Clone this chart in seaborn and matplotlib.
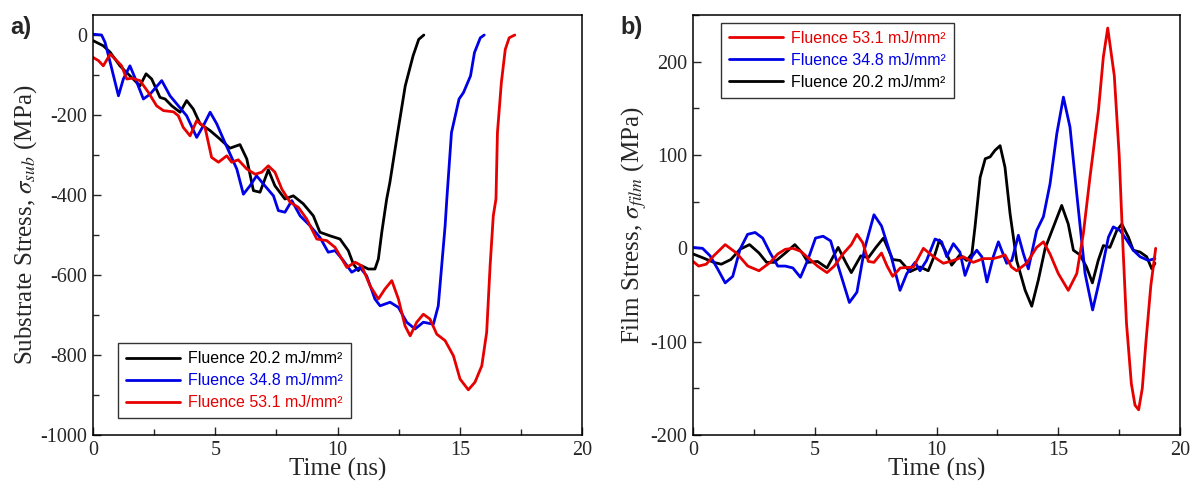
import numpy as np
import pandas as pd
import matplotlib.pyplot as plt
import seaborn as sns

# ---- panel a) substrate stress (MPa) vs time (ns) ----
t_sub_20 = [0, 0.42, 0.70, 1.10, 1.51, 1.92, 2.17, 2.40, 2.74, 2.95, 3.22, 3.56, 3.83, 4.10, 4.38,
            4.79, 5.19, 5.60, 6.01, 6.29, 6.56, 6.83, 7.17, 7.44, 7.85, 8.19, 8.60, 9.01, 9.28,
            9.69, 10.10, 10.44, 10.65, 10.85, 10.99, 11.26, 11.53, 11.67, 11.81, 12.01, 12.14,
            12.46, 12.77, 13.09, 13.32, 13.53]
s_sub_20 = [-14, -27, -43, -77, -102, -127, -97, -110, -156, -160, -177, -193, -164, -185, -222,
            -239, -260, -283, -274, -310, -389, -393, -337, -377, -410, -402, -422, -452, -493,
            -502, -510, -539, -573, -589, -577, -585, -585, -560, -493, -410, -369,
            -244, -127, -52, -11, 0]

t_sub_35 = [0, 0.35, 0.49, 0.70, 1.04, 1.24, 1.51, 1.79, 2.06, 2.33, 2.81, 3.15, 3.49, 3.83, 4.24,
            4.51, 4.79, 5.06, 5.33, 5.88, 6.15, 6.42, 6.69, 7.03, 7.38, 7.58, 7.85, 8.13, 8.47,
            8.88, 9.28, 9.62, 9.90, 10.24, 10.58, 10.92, 11.19, 11.53, 11.74, 12.15, 12.49,
            12.83, 13.17, 13.51, 13.92, 14.12, 14.26, 14.40, 14.47, 14.66, 14.97, 15.15, 15.44,
            15.60, 15.84, 16.00]
s_sub_35 = [2, 0, -18, -68, -152, -110, -77, -118, -160, -148, -114, -152, -177, -202, -256,
            -227, -193, -222, -260, -335, -398, -377, -352, -377, -402, -439, -443, -414, -452,
            -477, -506, -543, -539, -564, -593, -581, -602, -660, -677, -668, -681,
            -718, -735, -718, -723, -677, -577, -477, -410, -244, -160, -144, -102,
            -44, -7, 0]

t_sub_53 = [0, 0.22, 0.42, 0.70, 0.97, 1.17, 1.38, 1.58, 1.92, 2.26, 2.60, 2.88, 3.29, 3.49, 3.69,
            3.97, 4.24, 4.58, 4.85, 5.13, 5.47, 5.67, 5.94, 6.29, 6.63, 6.90, 7.17, 7.44, 7.72,
            8.06, 8.40, 8.74, 9.15, 9.56, 9.90, 10.38, 10.72, 10.99, 11.33, 11.67, 11.94, 12.22,
            12.49, 12.76, 12.97, 13.24, 13.51, 13.78, 14.06, 14.40, 14.74, 15.01, 15.35, 15.62,
            15.90, 16.10, 16.24, 16.37, 16.48, 16.54, 16.70, 16.86, 17.02, 17.25]
s_sub_53 = [-56, -64, -77, -48, -64, -77, -110, -108, -114, -143, -177, -189, -192, -202, -231,
            -252, -214, -231, -306, -318, -302, -318, -312, -335, -348, -343, -327, -343, -385,
            -418, -431, -460, -510, -514, -531, -581, -568, -577, -627, -660, -635, -614,
            -660, -727, -752, -718, -698, -710, -748, -764, -802, -860, -887, -868,
            -827, -743, -577, -452, -410, -244, -119, -36, -7, 0]

# ---- panel b) film stress (MPa) vs time (ns) ----
t_film_53 = [0, 0.23, 0.54, 0.85, 1.32, 1.78, 2.25, 2.71, 3.17, 3.48, 3.79, 4.10, 4.41, 4.72, 5.11,
             5.50, 5.80, 6.19, 6.50, 6.73, 6.97, 7.20, 7.43, 7.74, 7.97, 8.20, 8.51, 9.05, 9.46,
             9.88, 10.28, 10.69, 11.10, 11.51, 11.92, 12.33, 12.61, 12.81, 13.08, 13.29, 13.70,
             14.11, 14.39, 14.66, 15.00, 15.41, 15.76, 16.03, 16.30, 16.65, 16.85, 17.03, 17.30,
             17.50, 17.65, 17.80, 18.00, 18.15, 18.30, 18.45, 18.60, 18.80, 19.00]
s_film_53 = [-14, -19, -17, -8, 4, -5, -19, -24, -15, -6, -1, 0, -3, -10, -19,
             -26, -19, -5, 4, 15, 6, -14, -15, -5, -19, -30, -21, -20, 0,
             -9, -16, -13, -9, -15, -11, -11, -9, -7, -20, -24, -16,
             1, 7, -6, -27, -45, -27, 16, 76, 148, 205, 236, 185,
             100, 5, -80, -145, -168, -173, -150, -100, -40, 0]

t_film_35 = [0, 0.39, 0.70, 1.01, 1.32, 1.63, 1.93, 2.24, 2.55, 2.86, 3.17, 3.48, 3.79, 4.10, 4.41,
             4.72, 5.03, 5.34, 5.65, 5.96, 6.42, 6.73, 7.04, 7.43, 7.74, 8.13, 8.50, 8.78, 9.12,
             9.32, 9.59, 9.94, 10.21, 10.42, 10.69, 10.96, 11.17, 11.45, 11.65, 11.86, 12.07,
             12.33, 12.54, 12.88, 13.09, 13.36, 13.57, 13.77, 14.11, 14.39, 14.66, 14.94, 15.21,
             15.48, 15.76, 16.10, 16.41, 16.72, 17.06, 17.26, 17.54, 17.81, 18.08, 18.36, 18.70,
             18.97]
s_film_35 = [1, 0, -8, -22, -37, -30, -1, 15, 17, 11, -5, -19, -19, -21, -31,
             -12, 11, 13, 8, -19, -58, -47, -1, 36, 24, -8, -45, -27, -15,
             -24, -13, 10, 7, -9, 5, -4, -29, -9, -2, -9, -36,
             -9, 7, -16, -13, 14, -6, -22, 19, 34, 69, 123, 162,
             130, 58, -27, -66, -31, 12, 23, 19, 9, -2, -9, -13,
             -11]

t_film_20 = [0, 0.39, 0.85, 1.16, 1.55, 1.93, 2.32, 2.71, 3.02, 3.33, 3.79, 4.18, 4.49, 4.72, 5.11,
             5.50, 5.96, 6.27, 6.50, 6.89, 7.20, 7.51, 7.82, 8.20, 8.50, 8.91, 9.32, 9.66, 9.94,
             10.12, 10.35, 10.62, 10.96, 11.24, 11.45, 11.58, 11.79, 12.00, 12.20, 12.40, 12.61,
             12.81, 13.02, 13.29, 13.64, 13.91, 14.18, 14.46, 14.80, 15.14, 15.41, 15.62, 15.89,
             16.16, 16.40, 16.64, 16.85, 17.12, 17.40, 17.61, 17.88, 18.08, 18.36, 18.63, 18.84,
             18.97]
s_film_20 = [-6, -10, -15, -17, -12, -1, 4, -5, -15, -15, -5, 4, -5, -15, -14,
             -21, 1, -15, -26, -8, -10, 1, 11, -12, -13, -25, -20, -24, -6,
             9, -2, -18, -7, -13, -6, 23, 76, 96, 98, 105, 110,
             87, 37, -13, -45, -62, -34, 0, 23, 46, 26, -2, -7,
             -20, -37, -13, 3, 1, 19, 26, 12, -2, -4, -9, -22,
             -16]

labels = ["Fluence 20.2 mJ/mm²", "Fluence 34.8 mJ/mm²", "Fluence 53.1 mJ/mm²"]
colors = ["#000000", "#0000e6", "#e60000"]

sub_series = [(t_sub_20, s_sub_20), (t_sub_35, s_sub_35), (t_sub_53, s_sub_53)]
film_series = [(t_film_20, s_film_20), (t_film_35, s_film_35), (t_film_53, s_film_53)]

sns.set_theme(style="white")
plt.rcParams['font.family'] = ['Liberation Serif', 'DejaVu Serif']
plt.rcParams['mathtext.fontset'] = 'stix'
plt.rcParams['axes.unicode_minus'] = False

fig = plt.figure(figsize=(11.91, 4.84), dpi=100)
ax1 = fig.add_axes([0.0781, 0.1012, 0.4106, 0.8678])
ax2 = fig.add_axes([0.5819, 0.1012, 0.4089, 0.8678])


def draw(ax, series, order):
    handles = {}
    for i in order:
        t, s = series[i]
        df = pd.DataFrame({"t": t, "s": s})
        sns.lineplot(data=df, x="t", y="s", ax=ax, color=colors[i], linewidth=2.0,
                     sort=False, estimator=None)
        handles[i] = ax.lines[-1]
    return handles


h1 = draw(ax1, sub_series, [0, 1, 2])
h2 = draw(ax2, film_series, [0, 1, 2])

for ax in (ax1, ax2):
    ax.set_xlim(0, 20)
    ax.set_xticks([0, 5, 10, 15, 20])
    ax.set_xticks(np.arange(0, 20.1, 2.5), minor=True)
    ax.tick_params(which="both", direction="in", bottom=True, left=True, top=False, right=False,
                   labelsize=14.5, pad=4)
    ax.tick_params(which="major", length=6, width=1)
    ax.tick_params(which="minor", length=4, width=1)
    for sp in ax.spines.values():
        sp.set_color("black")
        sp.set_linewidth(1.1)
    ax.set_xlabel("Time (ns)", fontsize=18, labelpad=-1)

ax1.set_ylim(-1000, 50)
ax1.set_yticks(np.arange(-1000, 1, 200))
ax1.set_yticks(np.arange(-1000, 1, 100), minor=True)
ax1.set_ylabel(r"Substrate Stress, $\sigma_{sub}$ (MPa)", fontsize=18, labelpad=1)

ax2.set_ylim(-200, 250)
ax2.set_yticks([-200, -100, 0, 100, 200])
ax2.set_yticks(np.arange(-200, 251, 50), minor=True)
ax2.set_ylabel(r"Film Stress, $\sigma_{film}$ (MPa)", fontsize=18, labelpad=1)

leg_kw = dict(frameon=True, fancybox=False, edgecolor="black", handlelength=3.4,
              handletextpad=0.5, labelspacing=0.44, borderpad=0.5, borderaxespad=0,
              prop={"family": "Liberation Sans", "size": 11.5})

leg1 = ax1.legend([h1[i] for i in [0, 1, 2]], [labels[i] for i in [0, 1, 2]],
                  loc="lower left", bbox_to_anchor=(0.051, 0.040), **leg_kw)
leg2 = ax2.legend([h2[i] for i in [2, 1, 0]], [labels[i] for i in [2, 1, 0]],
                  loc="upper left", bbox_to_anchor=(0.0575, 0.981), **leg_kw)
for leg, order in ((leg1, [0, 1, 2]), (leg2, [2, 1, 0])):
    leg.get_frame().set_linewidth(1.0)
    for txt, i in zip(leg.get_texts(), order):
        txt.set_color(colors[i])

fig.text(0.009, 0.93, "a)", fontsize=17, fontweight="bold", family="Liberation Sans")
fig.text(0.521, 0.93, "b)", fontsize=17, fontweight="bold", family="Liberation Sans")

fig.savefig("out.png", dpi=100)
